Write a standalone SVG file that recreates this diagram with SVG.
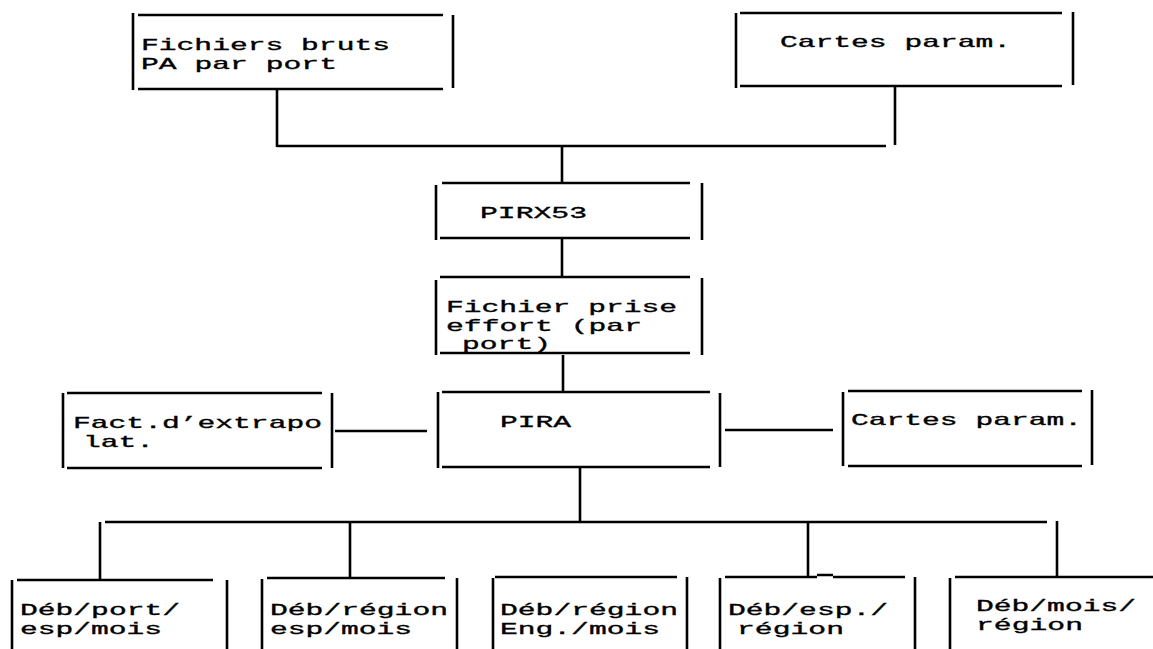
<svg xmlns="http://www.w3.org/2000/svg" width="1153" height="649" viewBox="0 0 1153 649">
<style>
.b{fill:none;stroke:#000;stroke-width:2.6;stroke-linecap:butt}
.c{fill:none;stroke:#000;stroke-width:2.6}
text{font-family:"Liberation Mono","DejaVu Sans Mono",monospace;font-size:17px;fill:#000;stroke:#000;stroke-width:0.35}
</style>
<rect width="1153" height="649" fill="#fff"/>
<g id="connectors">
<path class="c" d="M277 89V147M277 146H886M895 86V145M562 146V183M562 238V278M563 355V392M335 431H427M725 430H833M580 467V522M105 522H1047M100 522V579M350 522V578M808 522V577M1057 521V576"/>
</g>
<g id="fichiers-bruts">
<path class="b" d="M138 15H443M133 13V90M138 89H443M453 15V88"/>
<text x="141" y="50" textLength="249" lengthAdjust="spacingAndGlyphs">Fichiers bruts</text>
<text x="141" y="69" textLength="196" lengthAdjust="spacingAndGlyphs">PA par port</text>
</g>
<g id="cartes-param-1">
<path class="b" d="M740 13H1062M736 13V88M740 86H1062M1073 12V85"/>
<text x="780" y="47" textLength="231" lengthAdjust="spacingAndGlyphs">Cartes param.</text>
</g>
<g id="pirx53">
<path class="b" d="M442 183H690M436 185V240M440 238H690M702 183V240"/>
<text x="480" y="218" textLength="107" lengthAdjust="spacingAndGlyphs">PIRX53</text>
</g>
<g id="fichier-prise">
<path class="b" d="M440 277H690M436 280V355M440 353H690M702 278V355"/>
<text x="446" y="312" textLength="231" lengthAdjust="spacingAndGlyphs">Fichier prise</text>
<text x="446" y="331" textLength="196" lengthAdjust="spacingAndGlyphs">effort (par</text>
<text x="462" y="349" textLength="89" lengthAdjust="spacingAndGlyphs">port)</text>
</g>
<g id="fact-extrapolat">
<path class="b" d="M67 393H322M63 393V468M67 468H322M332 393V468"/>
<text x="73" y="428" textLength="249" lengthAdjust="spacingAndGlyphs">Fact.d’extrapo</text>
<text x="83" y="447" textLength="71" lengthAdjust="spacingAndGlyphs">lat.</text>
</g>
<g id="pira">
<path class="b" d="M442 392H710M438 392V468M442 467H710M720 393V467"/>
<text x="500" y="427" textLength="71" lengthAdjust="spacingAndGlyphs">PIRA</text>
</g>
<g id="cartes-param-2">
<path class="b" d="M848 391H1082M843 392V466M848 466H1082M1092 390V465"/>
<text x="851" y="425" textLength="231" lengthAdjust="spacingAndGlyphs">Cartes param.</text>
</g>
<g id="deb-port-esp-mois">
<path class="b" d="M17 580H213M12 580V649M227 580V649"/>
<text x="20" y="615" textLength="160" lengthAdjust="spacingAndGlyphs">Déb/port/</text>
<text x="20" y="634" textLength="142" lengthAdjust="spacingAndGlyphs">esp/mois</text>
</g>
<g id="deb-region-esp-mois">
<path class="b" d="M267 578H445M262 579V649M457 578V649"/>
<text x="270" y="615" textLength="178" lengthAdjust="spacingAndGlyphs">Déb/région</text>
<text x="270" y="634" textLength="142" lengthAdjust="spacingAndGlyphs">esp/mois</text>
</g>
<g id="deb-region-eng-mois">
<path class="b" d="M495 577H677M493 578V649M687 577V649"/>
<text x="500" y="615" textLength="178" lengthAdjust="spacingAndGlyphs">Déb/région</text>
<text x="500" y="634" textLength="160" lengthAdjust="spacingAndGlyphs">Eng./mois</text>
</g>
<g id="deb-esp-region">
<path class="b" d="M725 577H817M817 575H833M833 577H905M720 578V649M915 577V649"/>
<text x="728" y="615" textLength="160" lengthAdjust="spacingAndGlyphs">Déb/esp./</text>
<text x="737" y="634" textLength="107" lengthAdjust="spacingAndGlyphs">région</text>
</g>
<g id="deb-mois-region">
<path class="b" d="M955 577H1153M950 578V649"/>
<text x="976" y="611" textLength="160" lengthAdjust="spacingAndGlyphs">Déb/mois/</text>
<text x="976" y="630" textLength="107" lengthAdjust="spacingAndGlyphs">région</text>
</g>
</svg>
